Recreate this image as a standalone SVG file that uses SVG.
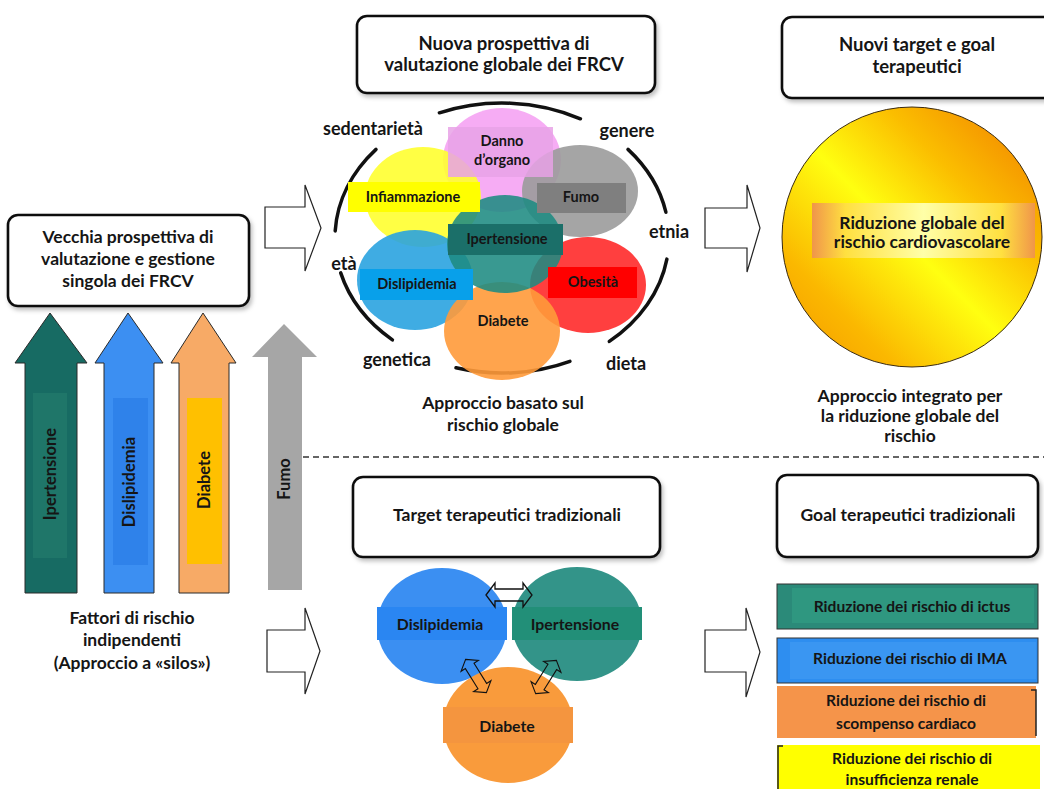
<svg xmlns="http://www.w3.org/2000/svg" xmlns:xlink="http://www.w3.org/1999/xlink" width="1044" height="789" viewBox="0 0 1044 789">
<defs>
<style>
text{font-family:Lato,"Liberation Sans",sans-serif;font-weight:700;fill:#151515;text-anchor:middle}
.hb{fill:#fff;stroke:#111;stroke-width:2.6}
.h18{font-size:18.5px}
.h17{font-size:17.5px}
.lab{font-size:18px}
.sil{font-size:16.5px}
.cl{font-size:14.5px}
.bc{font-size:15.8px}
.gb{font-size:15.6px}
.blk{fill:#fff;stroke:#222;stroke-width:1.2}
.silo{stroke:#2a2a2a;stroke-width:1}
</style>
<filter id="sh" x="-10%" y="-10%" width="130%" height="140%">
<feDropShadow dx="2" dy="3" stdDeviation="2" flood-color="#000" flood-opacity="0.25"/>
</filter>
<linearGradient id="sun" x1="1" y1="0" x2="0" y2="1">
<stop offset="0" stop-color="#f07800"/>
<stop offset="0.3" stop-color="#fbbe00"/>
<stop offset="0.52" stop-color="#ffff10"/>
<stop offset="0.78" stop-color="#fbb800"/>
<stop offset="1" stop-color="#f39400"/>
</linearGradient>
<linearGradient id="band" x1="0" y1="0" x2="1" y2="0">
<stop offset="0" stop-color="#f0954a"/>
<stop offset="0.15" stop-color="#ffe040"/>
<stop offset="0.5" stop-color="#ffffa8"/>
<stop offset="0.85" stop-color="#ffe040"/>
<stop offset="1" stop-color="#f0954a"/>
</linearGradient>
<path id="dbl" d="M-23,0 L-14,-12 L-14,-6 L14,-6 L14,-12 L23,0 L14,12 L14,6 L-14,6 L-14,12 Z" fill="none" stroke="#111" stroke-width="1.3"/>
</defs>
<rect width="1044" height="789" fill="#fff"/>

<g id="connectors">
<path class="blk" d="M265,207 H305 V185 L321,228 L305,271 V248 H265 Z"/>
<path class="blk" d="M267,630 H305 V608 L320,651 L305,694 V672 H267 Z"/>
<path class="blk" d="M705,208 H747 V185 L760,228 L747,272 V248 H705 Z"/>
<path class="blk" d="M705,630 H746 V608 L760,652 L746,697 V672 H705 Z"/>
<line x1="303" y1="457" x2="1044" y2="457" stroke="#333" stroke-width="1.3" stroke-dasharray="6,4"/>
</g>

<g id="box-vecchia">
<rect class="hb" filter="url(#sh)" x="8" y="215" width="241" height="91" rx="10"/>
<text class="h17" x="128" y="243">Vecchia prospettiva di</text>
<text class="h17" x="128" y="265">valutazione e gestione</text>
<text class="h17" x="128" y="287">singola dei FRCV</text>
</g>

<g id="silo-ipertensione">
<path class="silo" fill="#176b63" d="M25,593 V363 H15 L50,313 L87,363 H77 V593 Z"/>
<rect x="33" y="393" width="34" height="165" fill="#1f7669"/>
<text class="sil" transform="translate(56,474) rotate(-90)">Ipertensione</text>
</g>
<g id="silo-dislipidemia">
<path class="silo" fill="#3c8ff2" d="M104,593 V363 H95 L128,313 L163,363 H154 V593 Z"/>
<rect x="113" y="398" width="35" height="167" fill="#2f82ea"/>
<text class="sil" transform="translate(135,482) rotate(-90)">Dislipidemia</text>
</g>
<g id="silo-diabete">
<path class="silo" fill="#f7aa66" d="M179,593 V363 H171 L203,313 L236,363 H229 V593 Z"/>
<rect x="187" y="398" width="35" height="166" fill="#ffc000"/>
<text class="sil" transform="translate(210,480) rotate(-90)">Diabete</text>
</g>
<g id="silo-fumo">
<path fill="#a6a6a6" d="M268,590 V357 H252 L284,324 L317,357 H302 V590 Z"/>
<text class="sil" transform="translate(290,479) rotate(-90)">Fumo</text>
</g>

<g id="caption-silos">
<text class="h17" x="132" y="624">Fattori di rischio</text>
<text class="h17" x="132" y="646">indipendenti</text>
<text class="h17" x="132" y="669">(Approccio a «silos»)</text>
</g>

<g id="box-nuova">
<rect class="hb" filter="url(#sh)" x="357" y="16" width="298" height="77" rx="10"/>
<text class="h18" x="504" y="50">Nuova prospettiva di</text>
<text class="h18" x="504" y="71">valutazione globale dei FRCV</text>
</g>

<g id="cluster-global">
<g fill="none" stroke="#111" stroke-width="3.5" stroke-linecap="round">
<path d="M439.4,112.8 A167 135 0 0 1 580.4,118.8"/>
<path d="M376,149.4 A167 135 0 0 0 335.2,230.9"/>
<path d="M340.7,272.9 A167 135 0 0 0 392.4,339.9"/>
<path d="M456,367.8 A167 135 0 0 0 569.9,361.3"/>
<path d="M609.3,341.4 A167 135 0 0 0 666.9,259.1"/>
<path d="M628,149.4 A167 135 0 0 1 665.9,212.2"/>
</g>
<ellipse cx="502" cy="160" rx="59" ry="52" fill="#f5a3f3" fill-opacity="0.9"/>
<ellipse cx="580" cy="191" rx="58" ry="46" fill="#9b9b9b" fill-opacity="0.9"/>
<ellipse cx="423" cy="197" rx="58" ry="50" fill="#ffff30" fill-opacity="0.9"/>
<ellipse cx="415" cy="280" rx="58" ry="50" fill="#2aa3e0" fill-opacity="0.9"/>
<ellipse cx="588" cy="285" rx="58" ry="48" fill="#ff2a2a" fill-opacity="0.9"/>
<ellipse cx="502" cy="331" rx="58" ry="49" fill="#ff9a3a" fill-opacity="0.9"/>
<ellipse cx="505" cy="244" rx="58" ry="49" fill="#1e8b82" fill-opacity="0.88"/>
<rect x="448" y="127" width="105" height="50" fill="#e8a2e6" fill-opacity="0.85"/>
<rect x="537" y="183" width="89" height="30" fill="#7f7f7f"/>
<rect x="348" y="182" width="132" height="30" fill="#ffff00"/>
<rect x="448" y="224" width="115" height="31" fill="#1b6f69"/>
<rect x="360" y="269" width="113" height="31" fill="#08a0ea"/>
<rect x="548" y="267" width="89" height="31" fill="#ff0000"/>
</g>
<g id="n-danno"><text class="cl" x="502" y="146">Danno</text><text class="cl" x="502" y="165">d’organo</text></g>
<g id="n-infiammazione"><text class="cl" x="413" y="202">Infiammazione</text></g>
<g id="n-fumo"><text class="cl" x="581" y="202">Fumo</text></g>
<g id="n-ipertensione"><text class="cl" x="507" y="244">Ipertensione</text></g>
<g id="n-dislipidemia"><text class="cl" x="417" y="289">Dislipidemia</text></g>
<g id="n-obesita"><text class="cl" x="593" y="287">Obesità</text></g>
<g id="n-diabete"><text class="cl" x="503" y="326">Diabete</text></g>
<g id="outer-labels">
<text class="lab" x="373" y="135">sedentarietà</text>
<text class="lab" x="627" y="137">genere</text>
<text class="lab" x="669" y="238">etnia</text>
<text class="lab" x="344" y="270">età</text>
<text class="lab" x="397" y="366">genetica</text>
<text class="lab" x="626" y="370">dieta</text>
</g>
<g id="caption-global">
<text class="h17" x="503" y="409">Approccio basato sul</text>
<text class="h17" x="503" y="431">rischio globale</text>
</g>

<g id="box-nuovi">
<rect class="hb" filter="url(#sh)" x="782" y="17" width="272" height="81" rx="10"/>
<text class="h18" x="917" y="51">Nuovi target e goal</text>
<text class="h18" x="917" y="73">terapeutici</text>
</g>
<g id="n-riduzione-globale">
<circle cx="912" cy="237" r="130" fill="url(#sun)" stroke="#3a2a10" stroke-width="1"/>
<rect x="812" y="203" width="223" height="55" fill="url(#band)"/>
<text class="h17" x="922" y="229">Riduzione globale del</text>
<text class="h17" x="922" y="248">rischio cardiovascolare</text>
</g>
<g id="caption-integrato">
<text class="h17" x="910" y="402">Approccio integrato per</text>
<text class="h17" x="910" y="422">la riduzione globale del</text>
<text class="h17" x="910" y="442">rischio</text>
</g>

<g id="box-target">
<rect class="hb" filter="url(#sh)" x="353" y="477" width="307" height="80" rx="10"/>
<text class="h17" x="507" y="521">Target terapeutici tradizionali</text>
</g>
<g id="t-dislipidemia">
<ellipse cx="442" cy="626" rx="65" ry="58" fill="#3b8ff2"/>
<rect x="377" y="607" width="130" height="33" fill="#2a86f2"/>
<text class="bc" x="440" y="630">Dislipidemia</text>
</g>
<g id="t-ipertensione">
<ellipse cx="577" cy="624" rx="65" ry="57" fill="#339489"/>
<rect x="512" y="607" width="130" height="33" fill="#228f78"/>
<text class="bc" x="575" y="630">Ipertensione</text>
</g>
<g id="t-diabete">
<ellipse cx="508" cy="725" rx="65" ry="58" fill="#f99b3c"/>
<rect x="443" y="707" width="130" height="36" fill="#f4953f"/>
<text class="bc" x="507" y="732">Diabete</text>
</g>
<g id="t-links">
<use xlink:href="#dbl" transform="translate(509,595)"/>
<use xlink:href="#dbl" transform="translate(476,676) rotate(58) scale(0.85)"/>
<use xlink:href="#dbl" transform="translate(546,677) rotate(-58) scale(0.85)"/>
</g>

<g id="box-goal">
<rect class="hb" filter="url(#sh)" x="777" y="475" width="261" height="82" rx="10"/>
<text class="h17" x="908" y="521">Goal terapeutici tradizionali</text>
</g>
<g id="g-ictus">
<rect x="777" y="584" width="261" height="45" fill="#2b8a79" stroke="#333" stroke-width="1"/>
<rect x="792" y="588" width="242" height="35" fill="#2f9780"/>
<text class="gb" x="912" y="612">Riduzione dei rischio di ictus</text>
</g>
<g id="g-ima">
<rect x="777" y="638" width="261" height="45" fill="#2e8ef0" stroke="#333" stroke-width="1"/>
<rect x="790" y="642" width="246" height="37" fill="#3a96f2"/>
<text class="gb" x="910" y="664">Riduzione dei rischio di IMA</text>
</g>
<g id="g-scompenso">
<rect x="777" y="686" width="259" height="52" fill="#f5944a"/>
<path d="M1031,690 H1036 V736" fill="none" stroke="#222" stroke-width="1.5"/>
<text class="gb" x="906" y="706">Riduzione dei rischio di</text>
<text class="gb" x="906" y="729">scompenso cardiaco</text>
</g>
<g id="g-renale">
<rect x="777" y="745" width="263" height="44" fill="#ffff00"/>
<path d="M783,746 H778 V789" fill="none" stroke="#222" stroke-width="1.5"/>
<text class="gb" x="912" y="764">Riduzione dei rischio di</text>
<text class="gb" x="912" y="785">insufficienza renale</text>
</g>
</svg>
